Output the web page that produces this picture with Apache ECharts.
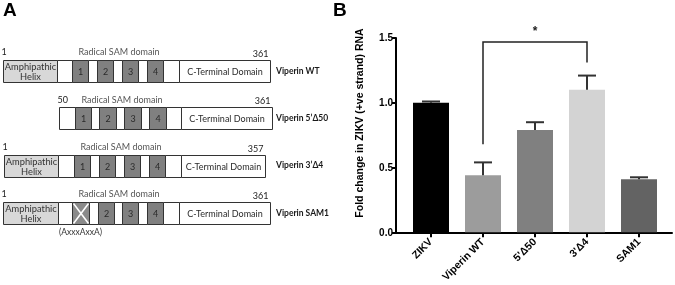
<!DOCTYPE html>
<html><head><meta charset="utf-8">
<script src="https://cdn.jsdelivr.net/npm/echarts@6/dist/echarts.min.js"></script>
<style>html,body{margin:0;padding:0;background:#fff}#c{width:675px;height:285px}</style>
</head><body><div id="c"></div>
<script>
// ---------- Panel A: domain schematic ----------
const constructs = ['Viperin WT', 'Viperin 5’Δ50', 'Viperin 3’Δ4', 'Viperin SAM1'];
const startLabels = ['1', '50', '1', '1'];
const endLabels = ['361', '361', '357', '361'];
const domainTitle = 'Radical SAM domain';
const mutationNote = '(AxxxAxxA)';
const segmentEdges = [
  [3, 57, 72, 88, 97, 113, 122, 138, 147, 163, 179, 270],
  [59, 75, 91, 99, 116, 124, 141, 149, 166, 181, 272],
  [4, 58, 74, 90, 99, 115, 124, 140, 149, 165, 181, 265],
  [3, 58, 72, 89, 98, 114, 122, 138, 147, 163, 179, 270]
];
const segmentKinds = [
  ['helix', 'gap', 'm1', 'gap', 'm2', 'gap', 'm3', 'gap', 'm4', 'gap', 'cterm'],
  ['gap', 'm1', 'gap', 'm2', 'gap', 'm3', 'gap', 'm4', 'gap', 'cterm'],
  ['helix', 'gap', 'm1', 'gap', 'm2', 'gap', 'm3', 'gap', 'm4', 'gap', 'cterm'],
  ['helix', 'gap', 'mut', 'gap', 'm2', 'gap', 'm3', 'gap', 'm4', 'gap', 'cterm']
];

// ---------- Panel B: bar chart ----------
const categories = ['ZIKV', 'Viperin WT', "5'Δ50", "3'Δ4", 'SAM1'];
const foldChange = [1.00, 0.44, 0.79, 1.10, 0.41];
const errorTop = [1.01, 0.54, 0.85, 1.21, 0.425];
// [fromIndex, toIndex, leftLegBottom, rightLegBottom, bracketTop, starLevel]
const significance = [[1, 3, 0.68, 1.31, 1.47, 1.57]];
const sigText = ['*'];

const barColors = ['#000000', '#9c9c9c', '#808080', '#d3d3d3', '#636363'];
const fills = { helix: '#d8d8d8', gap: '#ffffff', m1: '#808080', m2: '#808080', m3: '#808080', m4: '#808080', mut: '#8a8a8a', cterm: '#ffffff' };
const segTexts = { helix: 'Amphipathic\nHelix', m1: '1', m2: '2', m3: '3', m4: '4', cterm: 'C-Terminal Domain' };
const fontA = 'Lato, "Open Sans", sans-serif';
const fontB = '"Liberation Sans", Arial, sans-serif';

// build segment data
const segData = [], segMeta = [];
segmentEdges.forEach((edges, r) => {
  segmentKinds[r].forEach((k, i) => {
    segData.push([edges[i], edges[i + 1], r]);
    segMeta.push(k);
  });
});
const annData = segmentEdges.map((e, r) => {
  const ks = segmentKinds[r];
  const first = ks.findIndex(k => k === 'm1' || k === 'mut');
  const last = ks.indexOf('m4');
  return [e[0], e[e.length - 1], r, e[first], e[last + 1]];
});
const noteData = [];
segmentKinds.forEach((ks, r) => {
  const i = ks.indexOf('mut');
  if (i >= 0) noteData.push([(segmentEdges[r][i] + segmentEdges[r][i + 1]) / 2, r]);
});

const BOX_H = 22;
const chart = echarts.init(document.getElementById('c'));
chart.setOption({
  animation: false,
  backgroundColor: '#fff',
  grid: [
    { left: 0, top: 47.4, width: 270, height: 189.2 },
    { left: 396, right: 3, top: 38, bottom: 52 },
    { left: 405, width: 260, top: 38, bottom: 52 }
  ],
  graphic: [
    { type: 'text', left: 3, top: 1, style: { text: 'A', font: 'bold 19px ' + fontB, fill: '#000' } },
    { type: 'text', left: 333, top: 1, style: { text: 'B', font: 'bold 19px ' + fontB, fill: '#000' } }
  ],
  xAxis: [
    { gridIndex: 0, type: 'value', min: 0, max: 270, show: false },
    { gridIndex: 1, type: 'value', min: 0, max: 1, axisLine: { show: true, onZero: false, lineStyle: { color: '#000', width: 2 } },
      axisTick: { show: false }, axisLabel: { show: false }, splitLine: { show: false } },
    { gridIndex: 2, type: 'category', data: categories, boundaryGap: true,
      axisLine: { show: false },
      axisTick: { show: true, alignWithLabel: true, length: 5, lineStyle: { color: '#000', width: 2 } },
      axisLabel: { rotate: 45, margin: 8, color: '#000', fontFamily: fontB, fontWeight: 'bold', fontSize: 10.5 } }
  ],
  yAxis: [
    { gridIndex: 0, type: 'category', data: constructs, inverse: true, position: 'right',
      axisLine: { show: false }, axisTick: { show: false },
      axisLabel: { align: 'left', margin: 6, color: '#1a1a1a', fontFamily: fontA, fontWeight: 'bold', fontSize: 8.5 } },
    { gridIndex: 1, type: 'value', min: 0, max: 1.5, interval: 0.5,
      axisLine: { show: true, lineStyle: { color: '#000', width: 2 } },
      axisTick: { show: true, length: 4, lineStyle: { color: '#000', width: 2 } },
      axisLabel: { margin: 3, color: '#000', fontFamily: fontB, fontWeight: 'bold', fontSize: 10, formatter: v => v.toFixed(1) },
      splitLine: { show: false },
      name: 'Fold change in ZIKV (+ve strand) RNA', nameLocation: 'middle', nameGap: 30,
      nameTextStyle: { color: '#000', fontFamily: fontB, fontWeight: 'bold', fontSize: 10.5, padding: [0, 0, 0, 25] } },
    { gridIndex: 2, type: 'value', min: 0, max: 1.5, show: false }
  ],
  series: [
    {
      type: 'custom', xAxisIndex: 0, yAxisIndex: 0, data: segData, clip: false,
      encode: { x: [0, 1], y: 2 },
      renderItem(params, api) {
        const k = segMeta[params.dataIndex];
        const a = api.coord([api.value(0), api.value(2)]);
        const b = api.coord([api.value(1), api.value(2)]);
        const x = Math.round(a[0]) + 0.5, w = Math.round(b[0]) - Math.round(a[0]);
        const y = Math.round(a[1] - BOX_H / 2) + 0.5;
        const children = [{ type: 'rect', shape: { x, y, width: w, height: BOX_H }, style: { fill: fills[k], stroke: '#333', lineWidth: 1 } }];
        if (k === 'mut') {
          children.push({ type: 'line', shape: { x1: x + 1, y1: y + 1, x2: x + w - 1, y2: y + BOX_H - 1 }, style: { stroke: '#fff', lineWidth: 1.5 } });
          children.push({ type: 'line', shape: { x1: x + w - 1, y1: y + 1, x2: x + 1, y2: y + BOX_H - 1 }, style: { stroke: '#fff', lineWidth: 1.5 } });
        }
        if (segTexts[k]) {
          children.push({ type: 'text', style: { text: segTexts[k], x: x + w / 2, y: y + BOX_H / 2 + 0.5, align: 'center', verticalAlign: 'middle',
            font: (k === 'helix' ? '9.3px ' : '9px ') + fontA, lineHeight: 10.5, fill: k === 'helix' ? '#333' : '#2a2a2a' } });
        }
        return { type: 'group', children };
      }
    },
    {
      type: 'custom', xAxisIndex: 0, yAxisIndex: 0, data: annData, clip: false,
      encode: { x: [0, 1], y: 2 },
      renderItem(params, api) {
        const r = params.dataIndex;
        const a = api.coord([api.value(0), api.value(2)]);
        const b = api.coord([api.value(1), api.value(2)]);
        const s = api.coord([api.value(3), api.value(2)]);
        const e = api.coord([api.value(4), api.value(2)]);
        const top = a[1] - BOX_H / 2;
        return { type: 'group', children: [
          { type: 'text', style: { text: startLabels[r], x: a[0] - 1.5, y: top - 7.5, align: 'left', verticalAlign: 'middle', font: '9px ' + fontA, fill: '#222' } },
          { type: 'text', style: { text: domainTitle, x: (s[0] + e[0]) / 2 + 1.5, y: top - 7.5, align: 'center', verticalAlign: 'middle', font: '9px ' + fontA, fill: '#555' } },
          { type: 'text', style: { text: endLabels[r], x: b[0] - 1.5, y: top - 6, align: 'right', verticalAlign: 'middle', font: '9px ' + fontA, fill: '#222' } }
        ] };
      }
    },
    {
      type: 'custom', xAxisIndex: 0, yAxisIndex: 0, data: noteData, clip: false,
      encode: { x: 0, y: 1 },
      renderItem(params, api) {
        const p = api.coord([api.value(0), api.value(1)]);
        return { type: 'text', style: { text: mutationNote, x: p[0], y: p[1] + BOX_H / 2 + 8, align: 'center', verticalAlign: 'middle', font: '8.5px ' + fontA, fill: '#333' } };
      }
    },
    {
      type: 'bar', xAxisIndex: 2, yAxisIndex: 2, barWidth: 36,
      data: foldChange.map((v, i) => ({ value: v, itemStyle: { color: barColors[i] } }))
    },
    {
      type: 'custom', xAxisIndex: 2, yAxisIndex: 2, data: foldChange.map((v, i) => [i, v, errorTop[i]]), clip: false, z: 5,
      encode: { x: 0, y: [1, 2] },
      renderItem(params, api) {
        const b = api.coord([api.value(0), api.value(1)]);
        const t = api.coord([api.value(0), api.value(2)]);
        const x = Math.round(b[0]);
        return { type: 'group', children: [
          { type: 'line', shape: { x1: x, y1: b[1], x2: x, y2: t[1] }, style: { stroke: '#333', lineWidth: 2 } },
          { type: 'line', shape: { x1: x - 9, y1: t[1], x2: x + 9, y2: t[1] }, style: { stroke: '#333', lineWidth: 2 } }
        ] };
      }
    },
    {
      type: 'custom', xAxisIndex: 2, yAxisIndex: 2, data: significance, clip: false, z: 5,
      encode: { x: [0, 1], y: [2, 3, 4] },
      renderItem(params, api) {
        const l = api.coord([api.value(0), api.value(2)]);
        const r = api.coord([api.value(1), api.value(3)]);
        const top = api.coord([api.value(0), api.value(4)])[1];
        const star = api.coord([(api.value(0) + api.value(1)) / 2, api.value(5)]);
        return { type: 'group', children: [
          { type: 'polyline', shape: { points: [[l[0], l[1]], [l[0], top], [r[0], top], [r[0], r[1]]] }, style: { stroke: '#222', lineWidth: 1.5, fill: null } },
          { type: 'text', style: { text: sigText[params.dataIndex], x: star[0], y: star[1] + 3, align: 'center', verticalAlign: 'middle', font: 'bold 12px ' + fontB, fill: '#222' } }
        ] };
      }
    }
  ]
});
</script></body></html>
